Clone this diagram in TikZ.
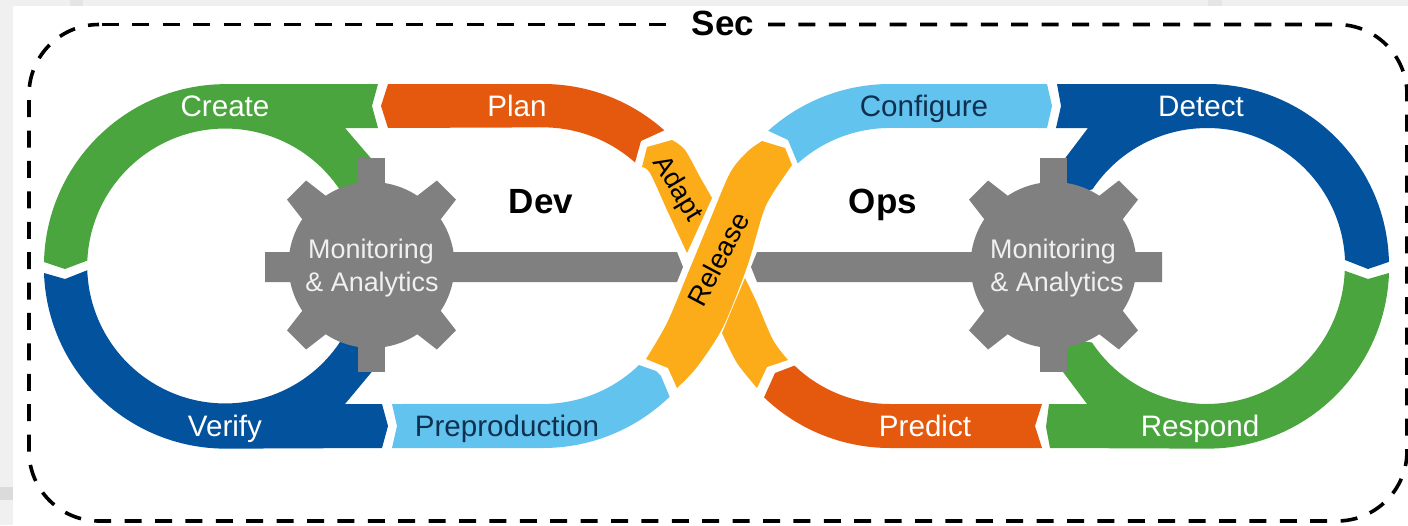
\documentclass[tikz,border=0pt]{standalone}
\usepackage{fontspec}
\setmainfont{Liberation Sans}
\definecolor{cgreen}{HTML}{4AA53F}
\definecolor{corange}{HTML}{E4590D}
\definecolor{cblue}{HTML}{02529E}
\definecolor{clight}{HTML}{62C4EE}
\definecolor{cyellow}{HTML}{FBAC18}
\definecolor{cgray}{HTML}{808080}
\definecolor{cnavy}{HTML}{10304F}
\definecolor{cedge}{HTML}{F0F0F0}
\tikzset{
  lbl/.style={font=\fontsize{29.6}{30}\selectfont,inner sep=0pt,text=#1,anchor=base},
  lbl/.default=white,
  head/.style={font=\fontsize{35}{36}\selectfont\bfseries,inner sep=0pt,text=black,anchor=base},
  mon/.style={font=\fontsize{26.9}{28}\selectfont,inner sep=0pt,text=white!88!cgray,anchor=base},
  frameline/.style={black,line width=3.6,dash pattern=on 17 off 13.4},
}
\newcommand{\gearat}[1]{%
  \begin{scope}[shift={(#1)}]
    \fill[cgray] (0,0) circle[radius=83];
    \fill[cgray] (-13.5,-107) rectangle (13.5,107);
    \foreach \a in {45,135,225,315}{
      \fill[cgray,rotate=\a] (-17,-78) -- (-13.5,-106) -- (13.5,-106) -- (17,-78) -- cycle;
    }
  \end{scope}}
\begin{document}
\begin{tikzpicture}[x=1pt,y=1pt,yscale=-1]
\useasboundingbox (0,0) rectangle (1408,525);
% backdrop
\fill[cedge] (0,0) rectangle (1408,525);
\fill[white] (13,6) rectangle (1408,525);
\fill[black!14] (0,487) rectangle (13,500);
\fill[black!10] (70,0) rectangle (83,6);
\fill[black!10] (1208,0) rectangle (1222,6);
% dashed frame, open where the title sits
\coordinate (ftr) at (768,24.5);
\coordinate (ftl) at (102,24.5);
\coordinate (fte) at (666,24.5);
\draw[frameline] (ftr) -- (1337,24.5) arc[start angle=270,end angle=360,radius=70] -- (1407,451) arc[start angle=0,end angle=90,radius=70] -- (99,521) arc[start angle=90,end angle=180,radius=70] -- (29,94.5) arc[start angle=180,end angle=270,radius=70];
\draw[frameline] (ftl) -- (fte);
\node[head] (sec) at (723,35) {Sec};
% left loop
\fill[cgreen] (44,262) arc[start angle=181.3,end angle=270,radius=182] -- (378,84) -- (372,106) -- (378,128) -- (345,128) -- (375,163) -- (360,195) -- (340,190) arc[start angle=326.3,end angle=182.5,radius=138] -- (65,269) -- cycle;
\fill[cblue] (44,273) arc[start angle=178,end angle=90,radius=182] -- (382,448) -- (388,426) -- (382,404) -- (345,404) -- (375,368) -- (360,338) -- (340,342) arc[start angle=33.7,end angle=178,radius=138] -- (65,279) -- cycle;
\fill[corange] (388,84) -- (543,84) arc[start angle=270,end angle=311.8,radius=182] -- (641,141) -- (635,162.5) arc[start angle=311.8,end angle=270,radius=138] -- (388,128) -- (381,106) -- cycle;
\fill[clight] (392,404) -- (397,426) -- (392,448) -- (543,448) arc[start angle=90,end angle=45.9,radius=182] -- (661,376) -- (656,371) -- (639,365) arc[start angle=45.9,end angle=90,radius=138] -- cycle;
% right loop
\fill[clight] (1047,84) -- (890,84) arc[start angle=270,end angle=228,radius=182] -- (788,140) -- (797.7,163.4) arc[start angle=228,end angle=270,radius=138] -- (1047,128) -- (1052,106) -- cycle;
\fill[cblue] (1057,84) -- (1207,84) arc[start angle=270,end angle=358.7,radius=182] -- (1368,269) -- (1345,260) arc[start angle=357.5,end angle=213.7,radius=138] -- (1060,195) -- (1060,165) -- (1088,128) -- (1056,128) -- (1061,106) -- cycle;
\fill[corange] (1042,448) -- (890,448) arc[start angle=90,end angle=133.8,radius=182] -- (775,373) -- (794.5,365.6) arc[start angle=133.8,end angle=90,radius=138] -- (1042,404) -- (1035,426) -- cycle;
\fill[cgreen] (1050,448) -- (1046,427) -- (1049,404) -- (1087,404) -- (1060,368) -- (1060,338) -- (1092,342.5) arc[start angle=146.3,end angle=2,radius=138] -- (1368,279) -- (1389,273) arc[start angle=2,end angle=90,radius=182] -- cycle;
% crossing
\fill[cyellow] plot[smooth] coordinates {(642,167) (650,173) (667,210) (687,253)} -- plot[smooth] coordinates {(712,198) (700,177) (685,150) (672,140)} -- (647,147) -- cycle;
\fill[cyellow] plot[smooth] coordinates {(722,333) (737,363) (757,388)} -- (767,367) -- plot[smooth] coordinates {(788,360) (773,340) (757,303) (745,278)} -- cycle;
\fill[cyellow] plot[smooth] coordinates {(646,359) (667,323) (688,273) (710,220) (730,173) (747,152) (762,141)} -- (785,148) -- plot[smooth] coordinates {(792,165) (773,193) (763,213) (747,267) (723,327) (697,367) (677,388)} -- (668,368) -- cycle;
% gears and bars
\gearat{371.5,265}
\gearat{1053.5,265}
\fill[cgray] (265,252) -- (677,252) -- (683,267) -- (677,282) -- (265,282) -- cycle;
\fill[cgray] (757,252) -- (751,267) -- (757,282) -- (1162,282) -- (1162,252) -- cycle;
% labels
\node[lbl] (create) at (225,116.5) {Create};
\node[lbl] (plan) at (517,116.5) {Plan};
\node[lbl=cnavy] (configure) at (924,116.5) {Configure};
\node[lbl] (detect) at (1201,116.5) {Detect};
\node[lbl] (verify) at (225,436.5) {Verify};
\node[lbl=cnavy] (prep) at (507,436.5) {Preproduction};
\node[lbl] (predict) at (925,436.5) {Predict};
\node[lbl] (respond) at (1200,436.5) {Respond};
\node[head] (dev) at (541,213) {Dev};
\node[head] (ops) at (883,213) {Ops};
\node[mon] (m1) at (371,258) {Monitoring};
\node[mon] (a1) at (372,291) {\& Analytics};
\node[mon] (m2) at (1053,258) {Monitoring};
\node[mon] (a2) at (1057,291) {\& Analytics};
\node[text=black,inner sep=0pt,font=\fontsize{27}{28}\selectfont,rotate=-59] (adapt) at (677,189) {Adapt};
\node[text=black,inner sep=0pt,font=\fontsize{27.5}{28}\selectfont,rotate=62] (release) at (718,259) {Release};
\end{tikzpicture}
\end{document}
